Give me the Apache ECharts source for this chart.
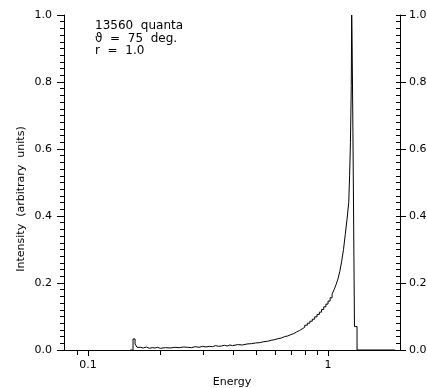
<!DOCTYPE html>
<html>
<head>
<meta charset="utf-8">
<script src="https://cdn.jsdelivr.net/npm/echarts@6/dist/echarts.min.js"></script>
<style>
html,body{margin:0;padding:0;background:#fff;}
#c{width:427px;height:388px;}
</style>
</head>
<body>
<div id="c"></div>
<script>
// Energy (bin left edges) and intensity
var energy = [0.15, 0.154, 0.157, 0.16, 0.165, 0.17, 0.175, 0.18, 0.185, 0.19, 0.195, 0.20,
  0.21, 0.22, 0.23, 0.24, 0.25, 0.26, 0.27, 0.28, 0.29, 0.30, 0.31, 0.32, 0.33, 0.34, 0.35,
  0.36, 0.37, 0.38, 0.39, 0.40, 0.42, 0.44, 0.46, 0.48, 0.50, 0.52, 0.54, 0.56, 0.58, 0.60,
  0.62, 0.64, 0.66, 0.68, 0.70, 0.72, 0.74, 0.76, 0.78, 0.80, 0.82, 0.84, 0.86, 0.88, 0.90,
  0.92, 0.94, 0.96, 0.98, 1.00, 1.02, 1.04, 1.06, 1.08, 1.10, 1.12, 1.14, 1.16, 1.18, 1.20,
  1.22, 1.23, 1.24, 1.25, 1.255, 1.26, 1.27, 1.289, 1.321, 1.9];
var intensity = [0, 0.033, 0.018, 0.008, 0.006, 0.009, 0.005, 0.007, 0.006, 0.008, 0.005, 0.007,
  0.006, 0.008, 0.007, 0.009, 0.008, 0.007, 0.010, 0.008, 0.011, 0.009, 0.011, 0.010, 0.013, 0.011, 0.012,
  0.014, 0.012, 0.015, 0.013, 0.016, 0.015, 0.018, 0.019, 0.021, 0.022, 0.025, 0.026, 0.029, 0.031, 0.034,
  0.036, 0.040, 0.042, 0.046, 0.049, 0.054, 0.058, 0.063, 0.068, 0.074, 0.080, 0.086, 0.092, 0.099, 0.106,
  0.113, 0.121, 0.129, 0.137, 0.146, 0.156, 0.167, 0.180, 0.195, 0.212, 0.235, 0.265, 0.300, 0.345, 0.39,
  0.44, 0.52, 0.62, 0.79, 1.0, 0.92, 0.65, 0.07, 0, 0];
var xMajorLabels = ['0.1', '1'];
var xMinorTicks = [0.09, 0.2, 0.3, 0.4, 0.5, 0.6, 0.7, 0.8, 0.9];
var yTickLabels = ['0.0', '0.2', '0.4', '0.6', '0.8', '1.0'];
var noteLines = ['13560  quanta', '\u03D1  =  75  deg.', 'r  =  1.0'];

var FONT = 'DejaVu Sans';
var chart = echarts.init(document.getElementById('c'), null, {renderer: 'canvas'});

var seriesData = energy.map(function (e, i) { return [e, intensity[i]]; });
var minorData = xMinorTicks.map(function (e) { return [e, 0]; });

function fmtX(v) {
  for (var i = 0; i < xMajorLabels.length; i++) {
    if (Math.abs(v - parseFloat(xMajorLabels[i])) < 1e-6) return xMajorLabels[i];
  }
  return '';
}
function fmtY(v) {
  var idx = Math.round(v / 0.2);
  return yTickLabels[idx] || '';
}

var lineStyle = {color: '#000', width: 1};
var labelStyle = {color: '#000', fontFamily: FONT, fontSize: 11};

chart.setOption({
  animation: false,
  backgroundColor: '#fff',
  grid: {left: 64, right: 27, top: 15, bottom: 38, show: false, containLabel: false, outerBoundsMode: 'none'},
  xAxis: {
    type: 'log', logBase: 10, min: 0.0794, max: 1.995,
    axisLine: {show: true, lineStyle: lineStyle},
    axisTick: {show: true, inside: false, length: 6, lineStyle: lineStyle},
    minorTick: {show: false},
    splitLine: {show: false},
    minorSplitLine: {show: false},
    axisLabel: Object.assign({margin: 10, formatter: fmtX, showMinLabel: false, showMaxLabel: false}, labelStyle),
    name: 'Energy', nameLocation: 'middle', nameGap: 27,
    nameTextStyle: labelStyle
  },
  yAxis: [
    {
      type: 'value', position: 'left', min: 0, max: 1, interval: 0.2,
      axisLine: {show: true, lineStyle: lineStyle},
      axisTick: {show: true, inside: false, length: 7, lineStyle: lineStyle},
      minorTick: {show: true, splitNumber: 10, length: 4, lineStyle: lineStyle},
      splitLine: {show: false},
      axisLabel: Object.assign({margin: 12, formatter: fmtY}, labelStyle)
    },
    {
      type: 'value', position: 'right', min: 0, max: 1, interval: 0.2, offset: 0,
      axisLine: {show: true, lineStyle: lineStyle},
      axisTick: {show: true, inside: true, length: 4, lineStyle: lineStyle},
      minorTick: {show: true, splitNumber: 10, length: 4, lineStyle: lineStyle},
      splitLine: {show: false},
      axisLabel: {show: false}
    },
    {
      type: 'value', position: 'right', min: 0, max: 1, interval: 0.2, offset: 0,
      axisLine: {show: false},
      axisTick: {show: true, inside: false, length: 6, lineStyle: lineStyle},
      minorTick: {show: false},
      splitLine: {show: false},
      axisLabel: Object.assign({margin: 9, formatter: fmtY}, labelStyle)
    }
  ],
  series: [
    {
      type: 'line', data: seriesData, step: 'end', showSymbol: false,
      lineStyle: {color: '#000', width: 1}, silent: true, clip: true, z: 3
    },
    {
      type: 'custom', data: minorData, clip: false, silent: true, z: 4,
      renderItem: function (params, api) {
        var p = api.coord([api.value(0), api.value(1)]);
        var x = Math.round(p[0]) + 0.5;
        var y = Math.round(p[1]);
        return {type: 'line', shape: {x1: x, y1: y, x2: x, y2: y + 5},
          style: {stroke: '#000', lineWidth: 1}};
      }
    }
  ],
  graphic: [
    {type: 'text', left: 95, top: 20, style: {text: noteLines.join('\n'), fill: '#000',
      font: '12px "' + FONT + '"', lineHeight: 12.5}},
    {type: 'text', x: 21, y: 199, rotation: Math.PI / 2,
      style: {text: 'Intensity  (arbitrary  units)', fill: '#000', font: '11px "' + FONT + '"',
        textAlign: 'center', textVerticalAlign: 'middle'}}
  ]
});
</script>
</body>
</html>
